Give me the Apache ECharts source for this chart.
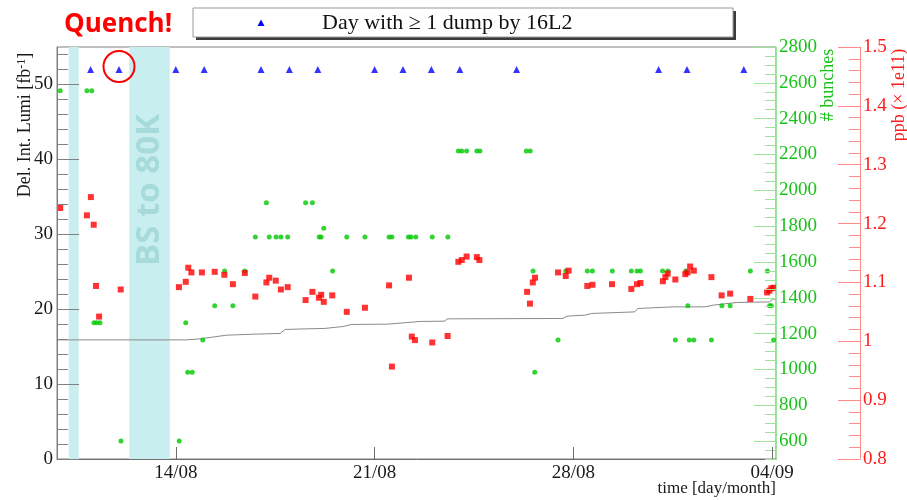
<!DOCTYPE html>
<html>
<head>
<meta charset="utf-8">
<script src="https://cdn.jsdelivr.net/npm/echarts@6/dist/echarts.min.js"></script>
<style>
  html, body { margin: 0; padding: 0; background: #ffffff; }
  #chart { width: 907px; height: 500px; }
</style>
</head>
<body>
<div id="chart"></div>
<script>
// Time is expressed as decimal day of August (September days continue as 31 + day).
const xTickDays   = [14, 21, 28, 35];
const xTickLabels = ['14/08', '21/08', '28/08', '04/09'];

// Days with at least one beam dump caused by 16L2
const dumpDays = [11, 12, 14, 15, 17, 18, 19, 21, 22, 23, 24, 26, 31, 32, 34];
const quenchDay = 12;

// Periods with the beam screen at 80 K
const bandStart = [10.23, 12.36];
const bandEnd   = [10.58, 13.79];

// Delivered integrated luminosity [fb^-1]
const lumiDays   = [9.817, 14.38, 14.85, 15.79, 16.79, 17.67, 17.85, 18.55, 19.25, 19.89, 20.2, 21.47, 21.54, 22.6, 23.48, 23.55, 27.63, 27.77, 28.4, 28.65, 30.16, 30.27, 31.5, 32.63, 32.91, 33.75, 34.91, 35.01, 35.13];
const lumiValues = [15.9, 15.9, 16.04, 16.53, 16.67, 16.76, 17.29, 17.37, 17.43, 17.69, 17.96, 18.0, 18.17, 18.36, 18.4, 18.71, 18.76, 19.07, 19.2, 19.43, 19.64, 20.09, 20.31, 20.31, 20.53, 20.89, 20.97, 21.3, 21.4];

// Number of bunches per fill
const bunchDays   = [9.93, 10.87, 11.04, 11.12, 11.22, 11.33, 12.07, 14.12, 14.35, 14.42, 14.58, 14.95, 15.37, 15.72, 16.01, 16.43, 16.80, 17.19, 17.29, 17.53, 17.70, 17.94, 18.57, 18.81, 19.05, 19.12, 19.21, 19.52, 20.02, 20.66, 21.51, 21.61, 22.19, 22.28, 22.45, 23.03, 23.58, 23.95, 24.07, 24.24, 24.60, 24.71, 26.34, 26.48, 26.58, 26.64, 27.46, 27.73, 28.49, 28.67, 29.37, 30.04, 30.24, 30.36, 31.14, 31.33, 31.59, 31.96, 32.03, 32.08, 32.24, 32.86, 33.23, 33.52, 34.23, 34.83, 34.91, 34.97, 35.05];
const bunchValues = [2556, 2556, 2556, 1260, 1260, 1260, 600, 600, 1260, 984, 984, 1164, 1356, 1550, 1356, 1550, 1740, 1930, 1740, 1740, 1740, 1740, 1930, 1930, 1740, 1740, 1788, 1550, 1740, 1740, 1740, 1740, 1740, 1740, 1740, 1740, 1740, 2220, 2220, 2220, 2220, 2220, 2220, 2220, 1550, 984, 1164, 1550, 1550, 1550, 1550, 1550, 1550, 1550, 1550, 1550, 1164, 1550, 1356, 1164, 1164, 1164, 1356, 1356, 1550, 1550, 1356, 1356, 1164];

// Protons per bunch [x 1e11]
const ppbDays   = [9.93, 10.87, 11.01, 11.11, 11.19, 11.30, 12.06, 14.11, 14.35, 14.44, 14.55, 14.92, 15.37, 15.71, 16.01, 16.43, 16.80, 17.19, 17.29, 17.52, 17.70, 17.94, 18.57, 18.81, 19.04, 19.12, 19.21, 19.51, 20.02, 20.66, 21.51, 21.61, 22.21, 22.31, 22.42, 23.03, 23.57, 23.95, 24.07, 24.24, 24.60, 24.69, 26.37, 26.47, 26.57, 26.65, 27.46, 27.73, 27.83, 28.49, 28.67, 29.36, 30.04, 30.24, 30.36, 31.15, 31.24, 31.32, 31.59, 31.94, 32.02, 32.11, 32.24, 32.86, 33.22, 33.52, 34.23, 34.82, 34.90, 34.97, 35.05];
const ppbValues = [1.2265, 1.214, 1.245, 1.198, 1.094, 1.042, 1.088, 1.092, 1.101, 1.125, 1.117, 1.117, 1.118, 1.113, 1.097, 1.116, 1.076, 1.100, 1.108, 1.103, 1.088, 1.092, 1.070, 1.084, 1.074, 1.079, 1.067, 1.078, 1.050, 1.057, 1.095, 0.957, 1.108, 1.008, 1.002, 0.998, 1.009, 1.135, 1.138, 1.144, 1.143, 1.138, 1.084, 1.064, 1.100, 1.108, 1.117, 1.111, 1.120, 1.094, 1.096, 1.097, 1.089, 1.097, 1.099, 1.102, 1.109, 1.115, 1.105, 1.114, 1.117, 1.127, 1.120, 1.109, 1.078, 1.081, 1.072, 1.083, 1.086, 1.090, 1.091];

// Axis ranges and tick spacing
const lumiRange  = [0, 55],     lumiMajor  = 10,  lumiMinor  = 2;
const bunchRange = [500, 2800], bunchMajor = 200, bunchMinor = 50;
const ppbRange   = [0.8, 1.5],  ppbMajor   = 0.1, ppbMinor   = 0.02;
const xRange     = [9.817, 35.134];
const dumpRowLumi = 52;   // row (in lumi units) where dump days are flagged

const SERIF = '"Liberation Serif", "DejaVu Serif", "Times New Roman", serif';
const SANS_BOLD = '"Open Sans", "Liberation Sans", sans-serif';

function steps(lo, hi, step, skip) {
  const out = [];
  const first = Math.ceil(lo / step - 1e-9);
  for (let i = first; i * step <= hi + 1e-9; i++) {
    const v = Math.round(i * step * 1e6) / 1e6;
    if (v < lo - 1e-9) continue;
    if (skip && Math.abs(v / skip - Math.round(v / skip)) < 1e-6) continue;
    out.push(v);
  }
  return out;
}

function axisPair(range, major, minor, opts) {
  const majors = steps(range[0], range[1], major);
  const minors = steps(range[0], range[1], minor, major);
  const base = {
    type: 'value', min: range[0], max: range[1], position: opts.position,
    offset: opts.offset || 0, z: 10, splitLine: { show: false }
  };
  return [
    Object.assign({}, base, {
      axisLine: { show: true, lineStyle: { color: opts.lineColor, width: 1 } },
      axisTick: { show: true, inside: true, length: 22, customValues: majors,
                  lineStyle: { color: opts.lineColor, width: 1 } },
      axisLabel: { show: true, customValues: majors, margin: opts.margin,
                   fontFamily: SERIF, fontSize: 19, color: opts.labelColor,
                   formatter: v => String(Math.round(v * 1e6) / 1e6) }
    }),
    Object.assign({}, base, {
      axisLine: { show: false },
      axisTick: { show: true, inside: true, length: 11, customValues: minors,
                  lineStyle: { color: opts.lineColor, width: 1 } },
      axisLabel: { show: false }
    })
  ];
}

const yAxes = [].concat(
  axisPair(lumiRange, lumiMajor, lumiMinor,
    { position: 'left', lineColor: '#808080', labelColor: '#1a1a1a', margin: 4 }),
  axisPair(bunchRange, bunchMajor, bunchMinor,
    { position: 'right', lineColor: '#9be59b', labelColor: '#19c219', margin: 3 }),
  axisPair(ppbRange, ppbMajor, ppbMinor,
    { position: 'right', offset: 84, lineColor: '#ff8a8a', labelColor: '#ff1a1a', margin: 3 })
);

const zip = (a, b) => a.map((v, i) => [v, b[i]]);

const chart = echarts.init(document.getElementById('chart'), null, { renderer: 'canvas' });

const option = {
  animation: false,
  backgroundColor: '#ffffff',
  grid: { left: 57, right: 131, top: 47, bottom: 41, show: true,
          borderColor: '#808080', borderWidth: 1, backgroundColor: 'transparent' },
  xAxis: {
    type: 'value', min: xRange[0], max: xRange[1], position: 'bottom', z: 10,
    splitLine: { show: false },
    axisLine: { show: true, lineStyle: { color: '#6e6e6e' } },
    axisTick: { show: true, inside: true, length: 12, customValues: xTickDays,
                lineStyle: { color: '#6e6e6e' } },
    axisLabel: { customValues: xTickDays, margin: 5, fontFamily: SERIF, fontSize: 19,
                 color: '#1a1a1a',
                 formatter: v => xTickLabels[xTickDays.indexOf(v)] }
  },
  yAxis: yAxes,
  series: [
    {
      name: 'Del. Int. Lumi', type: 'line', xAxisIndex: 0, yAxisIndex: 0,
      data: zip(lumiDays, lumiValues), symbol: 'none', z: 3,
      lineStyle: { color: '#8a8a8a', width: 1 },
      markArea: {
        silent: true,
        itemStyle: { color: '#c8eef0' },
        data: bandStart.map((s, i) => [{ xAxis: s }, { xAxis: bandEnd[i] }])
      }
    },
    {
      name: 'Day with ≥ 1 dump by 16L2', type: 'scatter', yAxisIndex: 0, z: 5,
      data: dumpDays.map(d => [d, dumpRowLumi]),
      symbol: 'triangle', symbolSize: 7, itemStyle: { color: '#0000ff' }
    },
    {
      name: '# bunches', type: 'scatter', yAxisIndex: 2, z: 4,
      data: zip(bunchDays, bunchValues),
      symbol: 'circle', symbolSize: 5, itemStyle: { color: '#00c800' }
    },
    {
      name: 'ppb', type: 'scatter', yAxisIndex: 4, z: 4,
      data: zip(ppbDays, ppbValues),
      symbol: 'rect', symbolSize: 6, itemStyle: { color: '#ff0000' }
    }
  ]
};

chart.setOption(option);

// Annotations, titles and the legend box
const quenchPt = chart.convertToPixel({ xAxisIndex: 0, yAxisIndex: 0 }, [quenchDay, dumpRowLumi]);
const bsMid = chart.convertToPixel({ xAxisIndex: 0, yAxisIndex: 0 },
  [(bandStart[1] + bandEnd[1]) / 2, 35]);

chart.setOption({
  graphic: [
    // "BS to 80K" label inside the second band
    { type: 'text', x: bsMid[0], y: 190, rotation: Math.PI / 2, z: 2, silent: true,
      style: { text: 'BS to 80K', fill: '#a6dadb', font: 'bold 33px ' + SANS_BOLD,
               align: 'center', verticalAlign: 'middle' } },
    // Quench marker
    { type: 'circle', shape: { cx: quenchPt[0], cy: quenchPt[1] - 3, r: 15.5 }, z: 20, silent: true,
      style: { fill: null, stroke: '#ff0000', lineWidth: 2 } },
    { type: 'text', x: 64, y: 25, z: 20, silent: true,
      style: { text: 'Quench!', fill: '#ff0000', font: 'bold 26px ' + SANS_BOLD,
               align: 'left', verticalAlign: 'middle' } },
    // Legend box with shadow
    { type: 'rect', shape: { x: 196, y: 11, width: 540, height: 29 }, z: 20, silent: true,
      style: { fill: '#3c3c3c' } },
    { type: 'rect', shape: { x: 193, y: 8, width: 540, height: 29 }, z: 21, silent: true,
      style: { fill: '#ffffff', stroke: '#9a9a9a', lineWidth: 1 } },
    { type: 'polygon', z: 22, silent: true,
      shape: { points: [[261, 19.5], [264.5, 26], [257.5, 26]] },
      style: { fill: '#0000ff' } },
    { type: 'text', x: 322, y: 23, z: 22, silent: true,
      style: { text: 'Day with ≥ 1 dump by 16L2', fill: '#111111', font: '22px ' + SERIF,
               align: 'left', verticalAlign: 'middle' } },
    // Axis titles
    { type: 'text', x: 25, y: 125, rotation: Math.PI / 2, z: 20, silent: true,
      style: { text: '{a|Del. Int. Lumi [fb}{s|-1}{a|]}', align: 'center', verticalAlign: 'middle',
               rich: { a: { fontFamily: SERIF, fontSize: 18, fill: '#1a1a1a' },
                       s: { fontFamily: SERIF, fontSize: 12, fill: '#1a1a1a', verticalAlign: 'top' } } } },
    { type: 'text', x: 828, y: 85, rotation: Math.PI / 2, z: 20, silent: true,
      style: { text: '# bunches', fill: '#19c219', font: '18px ' + SERIF,
               align: 'center', verticalAlign: 'middle' } },
    { type: 'text', x: 899, y: 95, rotation: Math.PI / 2, z: 20, silent: true,
      style: { text: 'ppb (× 1e11)', fill: '#ff1a1a', font: '18px ' + SERIF,
               align: 'center', verticalAlign: 'middle' } },
    { type: 'text', x: 776, y: 489, z: 20, silent: true,
      style: { text: 'time [day/month]', fill: '#1a1a1a', font: '17px ' + SERIF,
               align: 'right', verticalAlign: 'middle' } }
  ]
});
</script>
</body>
</html>
